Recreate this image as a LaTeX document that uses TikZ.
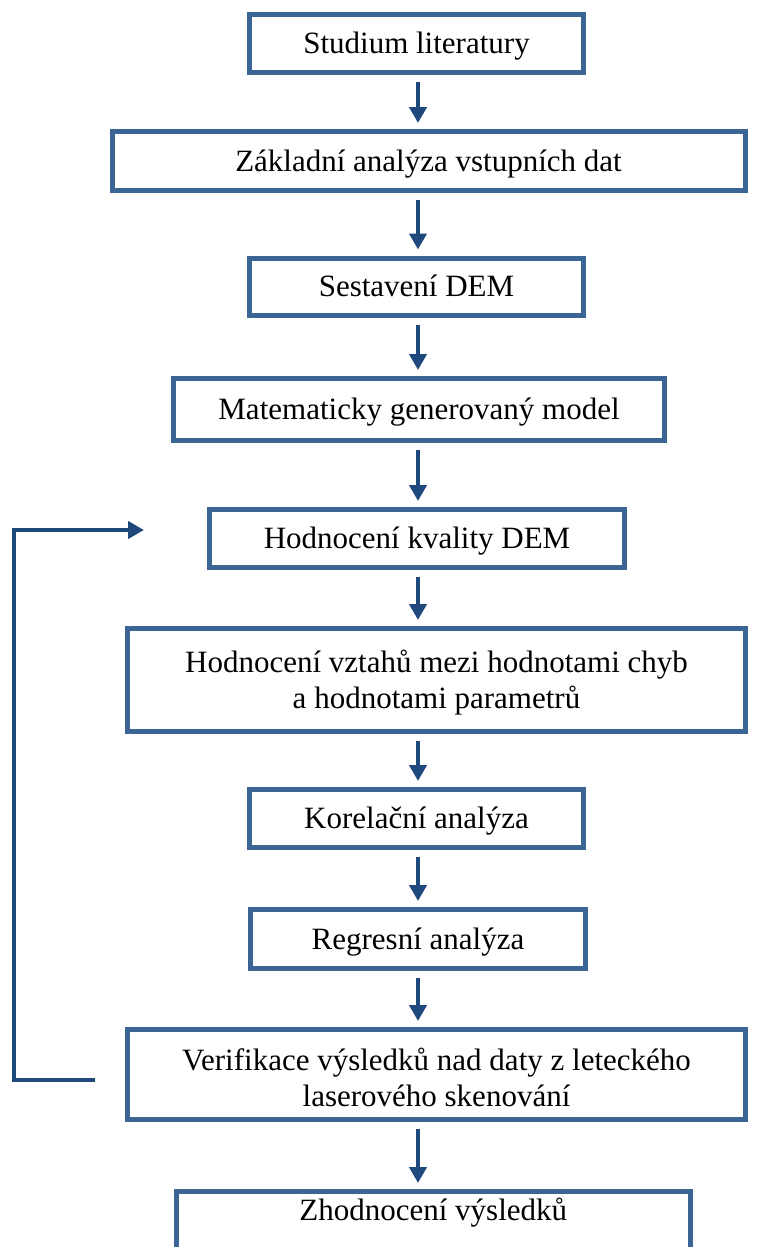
\documentclass[tikz,border=0pt]{standalone}
\usepackage{fontspec}
\setmainfont{Liberation Serif}
\usetikzlibrary{arrows.meta}
\definecolor{boxblue}{RGB}{58,101,149}
\definecolor{arrblue}{RGB}{31,73,125}
\newcommand\boxtext[2][-3pt]{\raisebox{#1}[\height][\depth]{\begin{tabular}{@{}c@{}}#2\end{tabular}}}
\begin{document}
\begin{tikzpicture}[x=1pt,y=-1pt,
  box/.style={draw=boxblue, line width=5pt, fill=white, outer sep=0pt, inner sep=0pt,
    font=\fontsize{31}{36}\selectfont, align=center},
  arr/.style={draw=arrblue, line width=4pt, -{Triangle[length=16pt,width=17pt]}},
  flow/.style={arr, shorten <=9.5pt, shorten >=8.5pt}]
\clip (0,0) rectangle (764,1247);
\fill[white] (0,0) rectangle (764,1247);
\coordinate (ax) at (418,0);

\node[box, minimum width=334pt, minimum height=58pt] (b1) at (416.5,43.5) {\boxtext{Studium literatury}};
\node[box, minimum width=633pt, minimum height=59pt] (b2) at (428.5,161) {\boxtext{Základní analýza vstupních dat}};
\node[box, minimum width=334pt, minimum height=57pt] (b3) at (416.5,286.5) {\boxtext{Sestavení DEM}};
\node[box, minimum width=491pt, minimum height=62pt] (b4) at (419,409.5) {\boxtext{Matematicky generovaný model}};
\node[box, minimum width=415pt, minimum height=58pt] (b5) at (417,538.5) {\boxtext{Hodnocení kvality DEM}};
\node[box, minimum width=618pt, minimum height=103pt] (b6) at (436.5,680) {\boxtext{Hodnocení vztahů mezi hodnotami chyb\\a hodnotami parametrů}};
\node[box, minimum width=334pt, minimum height=58pt] (b7) at (416.5,818.5) {\boxtext{Korelační analýza}};
\node[box, minimum width=334.5pt, minimum height=59pt] (b8) at (418,939) {\boxtext{Regresní analýza}};
\node[box, minimum width=618pt, minimum height=89.5pt] (b9) at (436.5,1074.25) {\boxtext[-7.5pt]{Verifikace výsledků nad daty z leteckého\\laserového skenování}};
\node[box, minimum width=513.5pt, minimum height=78.5pt] (b10) at (433.25,1230.75) {\boxtext[17pt]{Zhodnocení výsledků}};

\draw[flow] (b1.south -| ax) -- (b2.north -| ax);
\draw[flow] (b2.south -| ax) -- (b3.north -| ax);
\draw[flow] (b3.south -| ax) -- (b4.north -| ax);
\draw[flow] (b4.south -| ax) -- (b5.north -| ax);
\draw[flow] (b5.south -| ax) -- (b6.north -| ax);
\draw[flow] (b6.south -| ax) -- (b7.north -| ax);
\draw[flow] (b7.south -| ax) -- (b8.north -| ax);
\draw[flow] (b8.south -| ax) -- (b9.north -| ax);
\draw[flow] (b9.south -| ax) -- (b10.north -| ax);

\coordinate (fbs) at ([xshift=-32.5pt,yshift=-5.75pt]b9.west);
\coordinate (fbe) at ([xshift=-65.5pt,yshift=8.5pt]b5.west);
\coordinate (fbl) at (13.5,0);
\draw[arr] (fbs) -- (fbs -| fbl) -- (fbe -| fbl) -- (fbe);
\end{tikzpicture}
\end{document}
